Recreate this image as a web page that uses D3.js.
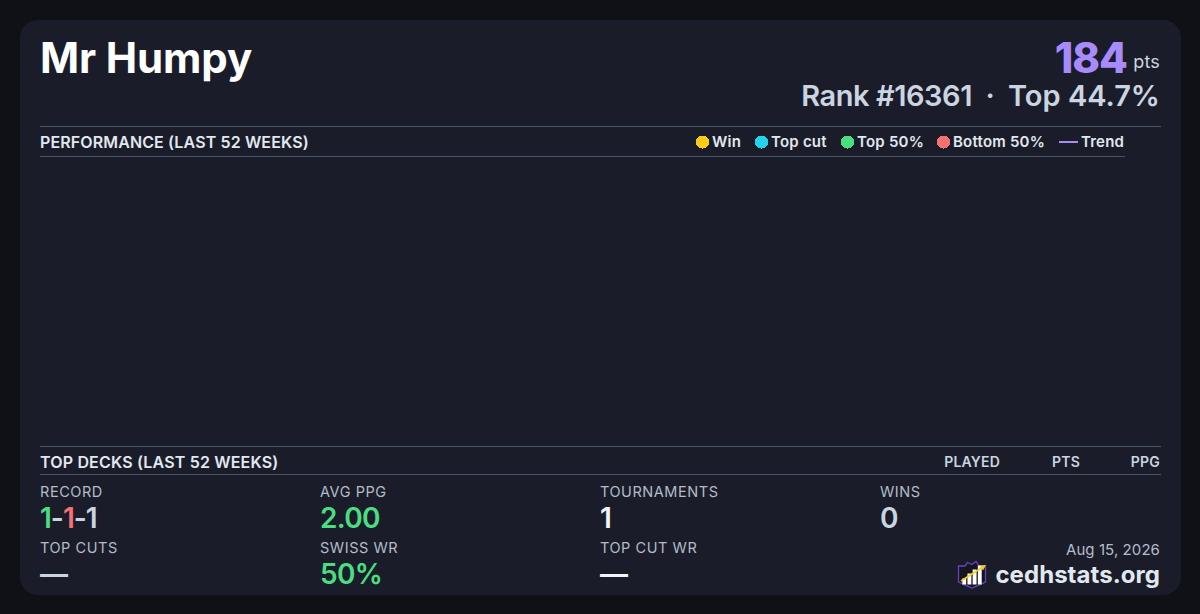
<!DOCTYPE html>
<html>
<head>
<meta charset="utf-8">
<script src="https://cdn.jsdelivr.net/npm/d3@7"></script>
<style>
  html, body { margin: 0; padding: 0; background: #0f1116; }
  svg { display: block; }
  text { font-family: Inter, "Noto Sans", sans-serif; }
</style>
</head>
<body>
<svg width="1200" height="614"></svg>
<script>
const playerName = "Mr Humpy"
const points = "184"
const rankText = "Rank #16361"
const topText = "Top 44.7%"
const chartTitle = "PERFORMANCE (LAST 52 WEEKS)"
const decksTitle = "TOP DECKS (LAST 52 WEEKS)"
const deckColumns = ["PLAYED", "PTS", "PPG"]
const deckColumnEnds = [1000, 1080, 1160]

const legendLabels = ["Win", "Top cut", "Top 50%", "Bottom 50%", "Trend"]
const legendColors = ["#facc15", "#22d3ee", "#4ade80", "#f87171", "#a78bfa"]
const legendX = [696, 755, 841, 937, 1059]

const statLabels = ["RECORD", "AVG PPG", "TOURNAMENTS", "WINS", "TOP CUTS", "SWISS WR", "TOP CUT WR"]
const statValues = [null, "2.00", "1", "0", "—", "50%", "—"]
const statColors = [null, "#4ade80", "#f1f5f9", "#cbd5e1", "#cbd5e1", "#4ade80", "#f1f5f9"]
const statCols = [40, 320, 600, 880, 40, 320, 600]
const statRows = [0, 0, 0, 0, 1, 1, 1]
const recordParts = ["1", "-", "1", "-", "1"]
const recordColors = ["#4ade80", "#cbd5e1", "#f87171", "#cbd5e1", "#cbd5e1"]

const svg = d3.select("svg")

svg.append("rect")
  .attr("x", 20).attr("y", 20)
  .attr("width", 1161).attr("height", 575)
  .attr("rx", 18)
  .attr("fill", "#1a1d29")

const addText = (str, x, y, size, weight, fill, anchor, spacing) => svg.append("text")
  .attr("x", x).attr("y", y)
  .attr("font-size", size)
  .attr("font-weight", weight)
  .attr("fill", fill)
  .attr("text-anchor", anchor || "start")
  .attr("letter-spacing", spacing || 0)
  .text(str)

// header
addText(playerName, 40, 73, 42, 700, "#ffffff", "start", -0.12)
addText(points, 1127, 73, 42, 800, "#a78bfa", "end", -1)
addText("pts", 1160, 68, 18, 400, "#cbd5e1", "end", 0.2)
addText(topText, 1160, 106, 29, 600, "#cbd5e1", "end", 0)
addText("·", 990, 106, 29, 600, "#cbd5e1", "middle")
addText(rankText, 972, 106, 29, 600, "#cbd5e1", "end", -0.45)

// section rules
const rules = [[40, 1161, 126.5], [40, 1125, 156.5], [40, 1161, 446.5], [40, 1161, 474.5]]
svg.selectAll("line.rule")
  .data(rules)
  .join("line")
  .attr("class", "rule")
  .attr("x1", d => d[0]).attr("x2", d => d[1])
  .attr("y1", d => d[2]).attr("y2", d => d[2])
  .attr("stroke", "#475569")

addText(chartTitle, 40, 147.5, 16, 600, "#e2e8f0", "start", 0.12)
addText(decksTitle, 40, 467.5, 16, 600, "#e2e8f0", "start", 0.17)

// legend
const legend = svg.selectAll("g.legend")
  .data(legendLabels)
  .join("g")
  .attr("class", "legend")
  .attr("transform", (d, i) => `translate(${legendX[i]}, 142)`)

legend.filter(d => d !== "Trend").append("circle")
  .attr("cx", 6.5).attr("cy", 0).attr("r", 6.5)
  .attr("shape-rendering", "crispEdges")
  .attr("fill", d => legendColors[legendLabels.indexOf(d)])

legend.filter(d => d === "Trend").append("line")
  .attr("x1", 0).attr("x2", 19)
  .attr("stroke", legendColors[4])
  .attr("stroke-width", 2)

legend.append("text")
  .attr("x", d => d === "Trend" ? 22 : 16)
  .attr("y", 5)
  .attr("font-size", 15)
  .attr("font-weight", 600)
  .attr("letter-spacing", 0.22)
  .attr("fill", "#e2e8f0")
  .text(d => d)

// deck table header
svg.selectAll("text.col")
  .data(deckColumns)
  .join("text")
  .attr("class", "col")
  .attr("x", (d, i) => deckColumnEnds[i])
  .attr("y", 467)
  .attr("text-anchor", "end")
  .attr("font-size", 14)
  .attr("font-weight", 600)
  .attr("letter-spacing", 0.2)
  .attr("fill", "#cbd5e1")
  .text(d => d)

// stats
const rowY = d3.scaleOrdinal().domain([0, 1]).range([0, 56])

svg.selectAll("text.stat-label")
  .data(statLabels)
  .join("text")
  .attr("class", "stat-label")
  .attr("x", (d, i) => statCols[i])
  .attr("y", (d, i) => 497 + rowY(statRows[i]))
  .attr("font-size", 14.5)
  .attr("letter-spacing", 0.55)
  .attr("fill", "#b4bcc9")
  .text(d => d)

svg.selectAll("text.stat-value")
  .data(statValues)
  .join("text")
  .attr("class", "stat-value")
  .attr("x", (d, i) => statCols[i])
  .attr("y", (d, i) => 528 + rowY(statRows[i]))
  .attr("font-size", 28)
  .attr("font-weight", 600)
  .attr("letter-spacing", -0.7)
  .attr("fill", (d, i) => statColors[i])
  .text(d => d)

const record = svg.append("text")
  .attr("x", 40).attr("y", 528)
  .attr("font-size", 28)
  .attr("font-weight", 600)
  .attr("letter-spacing", -1)

record.selectAll("tspan")
  .data(recordParts)
  .join("tspan")
  .attr("fill", (d, i) => recordColors[i])
  .text(d => d)

// footer
addText("Aug 15, 2026", 1160, 555, 15, 400, "#b4bcc9", "end", 0.08)
addText("cedhstats.org", 1160, 583, 24, 700, "#e2e8f0", "end", 0.05)

// logo
const logo = svg.append("g").attr("transform", "translate(958, 561)")
logo.append("path")
  .attr("d", "M0.5,5 L7,5 L9.5,1.5 L14,3.5 L18,0.5 L21,5 L27.5,5 L27.5,21 L14,27 L0.5,21 Z")
  .attr("fill", "#14161f")
  .attr("stroke", "#6d3fc4")
  .attr("stroke-width", 1.3)

const logoBars = [6, 11, 15, 19]
const logoX = d3.scaleBand().domain(d3.range(4)).range([3, 25]).padding(0.25)
logo.selectAll("rect")
  .data(logoBars)
  .join("rect")
  .attr("x", (d, i) => logoX(i))
  .attr("y", d => 23.5 - d)
  .attr("width", logoX.bandwidth())
  .attr("height", d => d)
  .attr("fill", "#ffffff")

logo.append("line")
  .attr("x1", 3).attr("y1", 20).attr("x2", 24).attr("y2", 6.5)
  .attr("stroke", "#facc15")
  .attr("stroke-width", 1.6)
logo.append("path")
  .attr("d", "M28,4 L22,4.5 L25,9.5 Z")
  .attr("fill", "#facc15")
</script>
</body>
</html>
